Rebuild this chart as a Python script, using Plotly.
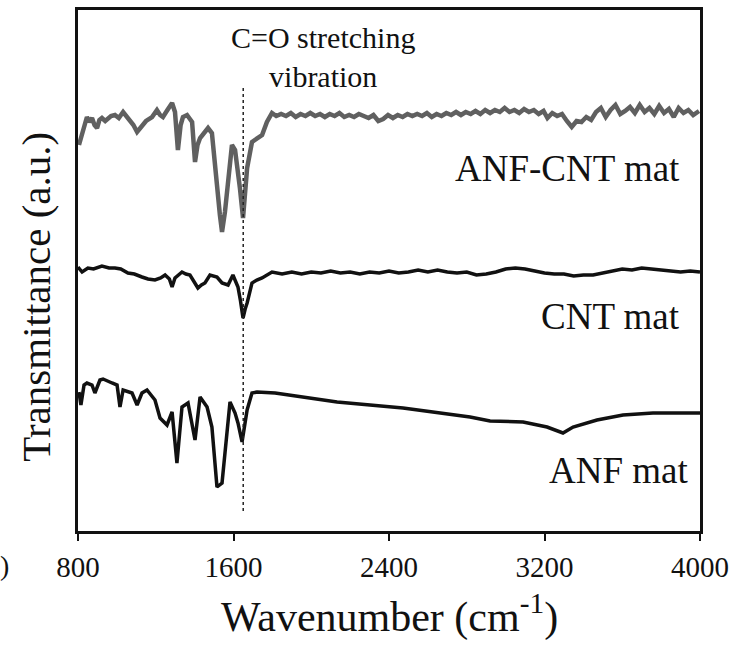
import plotly.graph_objects as go

# ---- data (wavenumber in cm-1, transmittance in arbitrary units, offset) ----
anf_cnt_wn = [805, 820, 846, 860, 872, 885, 898, 910, 923, 940, 954, 970, 990, 1010, 1032, 1050, 1068, 1085,
              1104, 1129, 1150, 1181, 1195, 1206, 1222, 1237, 1260, 1284, 1299, 1314, 1328, 1340, 1361, 1387,
              1402, 1415, 1428, 1450, 1469, 1489, 1502, 1515, 1530, 1541, 1556, 1575, 1592, 1608, 1620, 1633,
              1649, 1660, 1670, 1695, 1721, 1747, 1772,
              1798, 1820, 1845, 1870, 1895, 1920, 1945, 1970, 1995, 2020, 2045, 2070, 2095, 2120, 2145, 2170,
              2195, 2220, 2245, 2270, 2295, 2320, 2345, 2370, 2395, 2420, 2445, 2470, 2495, 2520, 2545, 2570,
              2595, 2620, 2645, 2670, 2695, 2720, 2745, 2770, 2795, 2820, 2845, 2870, 2895, 2920, 2945, 2970,
              2995, 3020, 3045, 3070, 3095, 3120, 3145, 3170, 3195, 3215, 3240, 3265, 3290, 3315, 3340, 3365,
              3390, 3415, 3440, 3465, 3490, 3515, 3540, 3565, 3590, 3615, 3640, 3665, 3690, 3715, 3740, 3765,
              3790, 3815, 3840, 3865, 3890, 3915, 3940, 3965, 3995]
anf_cnt_t = [386, 396, 414, 409, 413, 406, 403, 411, 413, 410, 413, 415, 416, 413, 419, 415, 411, 406,
             399, 406, 410, 414, 418, 421, 416, 414, 421, 428, 419, 381, 406, 414, 416, 409,
             369, 386, 393, 399, 403, 398, 376, 346, 316, 299, 319, 356, 386, 381, 366, 343,
             313, 336, 363, 389, 393, 396, 409,
             418, 415, 417, 415, 418, 414, 417, 415, 418, 415, 417, 414, 417, 415, 418, 414,
             416, 414, 417, 415, 413, 416, 410, 412, 416, 413, 416, 414, 417, 415, 417, 415,
             418, 414, 417, 415, 418, 416, 419, 416, 419, 417, 420, 417, 421, 418, 421, 419,
             423, 419, 421, 418, 422, 419, 421, 417, 420, 413, 418, 415, 417, 410, 404, 410,
             409, 414, 411, 419, 423, 414, 421, 426, 417, 420, 424, 418, 426, 419, 423, 417,
             425, 418, 422, 414, 423, 418, 421, 416, 420]

cnt_wn = [800, 821, 851, 880, 923, 960, 990, 1020, 1057, 1090, 1129, 1160, 1196, 1225, 1248, 1270, 1284,
          1299, 1335, 1355, 1376, 1400, 1417, 1435, 1453, 1479, 1500, 1515, 1541, 1572, 1597, 1610, 1623,
          1636, 1649, 1660, 1670, 1695, 1720, 1747, 1775,
          1798, 1850, 1900, 1950, 2000, 2050, 2100, 2150, 2200, 2250, 2300, 2350, 2400, 2450, 2500, 2550,
          2600, 2650, 2700, 2750, 2800, 2850, 2900, 2950, 3000, 3050, 3100, 3150, 3200, 3250, 3300, 3350,
          3400, 3450, 3500, 3550, 3600, 3650, 3700, 3750, 3800, 3850, 3900, 3950, 4000]
cnt_t = [264, 259, 263, 262, 265, 263, 263, 262, 258, 257, 254, 252, 251, 253, 256, 252, 244,
         253, 259, 257, 256, 248, 243, 246, 248, 256, 255, 254, 248, 246, 256, 250, 244,
         230, 213, 222, 228, 248, 251, 253, 256,
         259, 257, 259, 257, 259, 258, 260, 258, 259, 257, 259, 258, 260, 258, 259, 261,
         259, 261, 259, 258, 259, 256, 257, 259, 262, 263, 262, 260, 258, 257, 257, 255,
         256, 256, 258, 260, 262, 261, 263, 262, 261, 260, 259, 260, 259]

anf_wn = [805, 815, 831, 846, 872, 887, 913, 929, 975, 1001, 1016, 1032, 1078, 1104, 1129, 1155, 1196,
          1222, 1258, 1284, 1309, 1335, 1366, 1402, 1428, 1464, 1489, 1515, 1541, 1567, 1582, 1608, 1623,
          1644, 1670, 1695, 1721, 1814, 2133, 2472, 2817, 2920, 3090, 3213, 3295, 3347, 3470, 3604, 3758,
          3964, 4000]
anf_t = [139, 126, 146, 148, 146, 138, 151, 152, 148, 146, 124, 141, 138, 126, 138, 141, 131,
         113, 106, 119, 68, 124, 128, 91, 134, 124, 104, 44, 48, 101, 129, 118, 108,
         89, 121, 138, 139, 138, 129, 123, 114, 110, 109, 104, 98, 104, 111, 116, 118,
         118, 118]

x_ticks = [800, 1600, 2400, 3200, 4000]
x_range = [800, 4000]
y_range = [0, 521]

co_wavenumber = 1650
co_line_span = [20, 445]

curve_labels = ["ANF-CNT mat", "CNT mat", "ANF mat"]
label_x = [3907, 3907, 3949]
label_y = [363, 215, 61]

SERIF = "Liberation Serif"

fig = go.Figure()

fig.add_trace(go.Scatter(x=anf_cnt_wn, y=anf_cnt_t, mode="lines",
                         line=dict(color="#606060", width=4.5), showlegend=False))
fig.add_trace(go.Scatter(x=cnt_wn, y=cnt_t, mode="lines",
                         line=dict(color="#111111", width=3.5), showlegend=False))
fig.add_trace(go.Scatter(x=anf_wn, y=anf_t, mode="lines",
                         line=dict(color="#111111", width=3.5), showlegend=False))
fig.add_trace(go.Scatter(x=[co_wavenumber, co_wavenumber], y=co_line_span, mode="lines",
                         line=dict(color="#222222", width=1.5, dash="dot"), showlegend=False))

for txt, lx, ly in zip(curve_labels, label_x, label_y):
    fig.add_annotation(x=lx, y=ly, xref="x", yref="y", text=txt, showarrow=False,
                       xanchor="right", yanchor="middle",
                       font=dict(family=SERIF, size=37, color="#111111"))

fig.add_annotation(x=2062, y=474, xref="x", yref="y", text="C=O stretching<br>vibration",
                   showarrow=False, align="center",
                   xanchor="center", yanchor="middle", font=dict(family=SERIF, size=30, color="#111111"))

# axis titles
fig.add_annotation(x=0.5, y=-0.159, xref="paper", yref="paper",
                   text="Wavenumber (cm<sup>-1</sup>)", showarrow=False,
                   xanchor="center", yanchor="middle",
                   font=dict(family=SERIF, size=42, color="#111111"))
fig.add_annotation(x=-0.069, y=0.45, xref="paper", yref="paper",
                   text="Transmittance (a.u.)", showarrow=False, textangle=-90,
                   xanchor="center", yanchor="middle",
                   font=dict(family=SERIF, size=41, color="#111111"))
# cropped remnant of neighbouring panel label
fig.add_annotation(x=-0.1077, y=-0.067, xref="paper", yref="paper", text=")", showarrow=False,
                   xanchor="right", yanchor="middle",
                   font=dict(family=SERIF, size=28, color="#111111"))

fig.update_layout(
    width=732, height=645,
    margin=dict(l=78, r=32, t=10, b=114, autoexpand=False),
    paper_bgcolor="white", plot_bgcolor="white",
    font=dict(family=SERIF, color="#111111"),
    xaxis=dict(range=x_range, tickvals=x_ticks, ticktext=[str(v) for v in x_ticks],
               showline=True, mirror=True, linecolor="#111111", linewidth=2.5,
               ticks="outside", ticklen=7, tickwidth=2, tickcolor="#111111",
               showgrid=False, zeroline=False, ticklabelstandoff=1,
               tickfont=dict(family=SERIF, size=29, color="#111111")),
    yaxis=dict(range=y_range, showline=True, mirror=True, linecolor="#111111", linewidth=2.5,
               ticks="", showticklabels=False, showgrid=False, zeroline=False),
)

fig.write_html("out.html")
